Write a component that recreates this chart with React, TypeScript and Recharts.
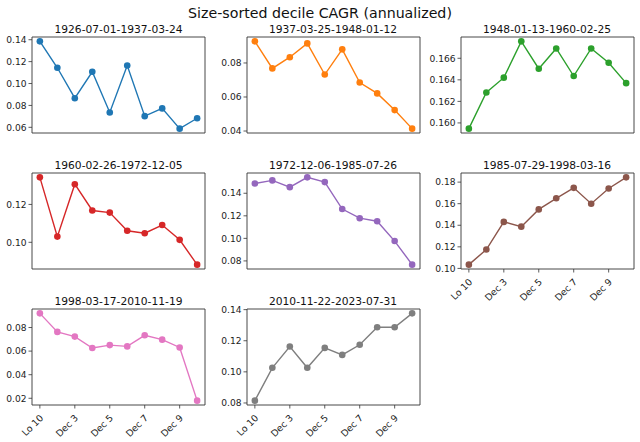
import React from "react";
import { LineChart, Line, XAxis, YAxis, ReferenceLine } from "recharts";

const categories = ["Lo 10", "Dec 2", "Dec 3", "Dec 4", "Dec 5", "Dec 6", "Dec 7", "Dec 8", "Dec 9", "Hi 10"];

const periods = [
  "1926-07-01-1937-03-24",
  "1937-03-25-1948-01-12",
  "1948-01-13-1960-02-25",
  "1960-02-26-1972-12-05",
  "1972-12-06-1985-07-26",
  "1985-07-29-1998-03-16",
  "1998-03-17-2010-11-19",
  "2010-11-22-2023-07-31",
];

const cagr1926 = [0.1385, 0.1144, 0.0866, 0.1107, 0.0736, 0.1165, 0.0702, 0.0773, 0.0588, 0.0683];
const cagr1937 = [0.0927, 0.0768, 0.0834, 0.0915, 0.0732, 0.0880, 0.0685, 0.0621, 0.0523, 0.0414];
const cagr1948 = [0.15947, 0.16282, 0.1642, 0.16757, 0.16503, 0.16691, 0.16435, 0.16691, 0.16559, 0.16369];
const cagr1960 = [0.1343, 0.1030, 0.1307, 0.1168, 0.1157, 0.1061, 0.1048, 0.1091, 0.1013, 0.0882];
const cagr1972 = [0.1487, 0.1514, 0.1454, 0.1541, 0.1499, 0.1260, 0.1179, 0.1152, 0.0976, 0.0767];
const cagr1985 = [0.1035, 0.1175, 0.1431, 0.1387, 0.1547, 0.1650, 0.1747, 0.1600, 0.1741, 0.1844];
const cagr1998 = [0.0920, 0.0763, 0.0723, 0.0626, 0.0651, 0.0640, 0.0734, 0.0697, 0.0631, 0.0180];
const cagr2010 = [0.0815, 0.1026, 0.1163, 0.1026, 0.1154, 0.1109, 0.1174, 0.1287, 0.1287, 0.1376];

const seriesValues = [cagr1926, cagr1937, cagr1948, cagr1960, cagr1972, cagr1985, cagr1998, cagr2010];

const yTicks = [
  [0.06, 0.08, 0.1, 0.12, 0.14],
  [0.04, 0.06, 0.08],
  [0.16, 0.162, 0.164, 0.166],
  [0.1, 0.12],
  [0.08, 0.1, 0.12, 0.14],
  [0.1, 0.12, 0.14, 0.16, 0.18],
  [0.02, 0.04, 0.06, 0.08],
  [0.08, 0.1, 0.12, 0.14],
];
const yDecimals = [2, 2, 3, 2, 2, 2, 2, 2];
const xTickIdx = [0, 2, 4, 6, 8];

const colors = ["#1f77b4", "#ff7f0e", "#2ca02c", "#d62728", "#9467bd", "#8c564b", "#e377c2", "#7f7f7f"];

const FONT = "DejaVu Sans, sans-serif";
const colLeft = [32, 246.5, 460.5];
const rowTop = [37, 173, 309];
const boxW = 173;
const boxH = 96;
const showLabels = [false, false, false, false, false, true, true, true];
const SPINE = "#333";

const RotTick = (props: any) => {
  const { x, y, payload } = props;
  const px = x + 4;
  const py = y + 8;
  return (
    <text
      x={px}
      y={py}
      textAnchor="end"
      fontSize={9.3}
      fontFamily={FONT}
      fill="#222"
      transform={`rotate(-45, ${px}, ${py})`}
    >
      {categories[payload.value]}
    </text>
  );
};

function Panel({ i }: { i: number }) {
  const vals = seriesValues[i];
  const data = vals.map((v, k) => ({ x: k, v }));
  const mn = Math.min(...vals);
  const mx = Math.max(...vals);
  const pad = (mx - mn) * 0.05;
  const yDom = [mn - pad, mx + pad];
  const xDom = [-0.45, 9.45];
  const col = i % 3;
  const row = Math.floor(i / 3);
  const left = colLeft[col];
  const top = rowTop[row];
  const W = boxW + 45;
  const H = boxH + 5 + 45;
  return (
    <>
      <div
        style={{
          position: "absolute",
          left: left,
          width: boxW,
          top: top - 14,
          textAlign: "center",
          fontFamily: FONT,
          fontSize: 10.7,
          color: "#111",
          lineHeight: "13px",
          whiteSpace: "nowrap",
        }}
      >
        {periods[i]}
      </div>
      <div style={{ position: "absolute", left: left - 40, top: top - 5, width: W, height: H }}>
        <LineChart width={W} height={H} data={data} margin={{ top: 5, right: 5, left: 0, bottom: 0 }}>
          <XAxis
            dataKey="x"
            type="number"
            domain={xDom}
            ticks={xTickIdx}
            allowDataOverflow
            axisLine={{ stroke: SPINE, strokeWidth: 0.9 }}
            tickLine={{ stroke: SPINE, strokeWidth: 0.8 }}
            tickSize={3.5}
            height={45}
            interval={0}
            tick={showLabels[i] ? <RotTick /> : false}
          />
          <YAxis
            type="number"
            domain={yDom}
            ticks={yTicks[i]}
            allowDataOverflow
            axisLine={{ stroke: SPINE, strokeWidth: 0.9 }}
            tickLine={{ stroke: SPINE, strokeWidth: 0.8 }}
            tickSize={3.5}
            tickMargin={2}
            width={40}
            interval={0}
            tick={{ fontSize: 9.1, fontFamily: FONT, fill: "#222" }}
            tickFormatter={(v: number) => v.toFixed(yDecimals[i])}
          />
          <ReferenceLine y={yDom[1]} stroke={SPINE} strokeWidth={0.9} ifOverflow="visible" />
          <ReferenceLine x={xDom[1]} stroke={SPINE} strokeWidth={0.9} ifOverflow="visible" />
          <Line
            dataKey="v"
            stroke={colors[i]}
            strokeWidth={1.4}
            dot={{ r: 3.3, fill: colors[i], stroke: colors[i], strokeWidth: 0 }}
            isAnimationActive={false}
          />
        </LineChart>
      </div>
    </>
  );
}

export default function App() {
  return (
    <div
      style={{
        position: "absolute",
        left: 0,
        top: 0,
        width: 640,
        height: 442,
        background: "#fff",
        overflow: "hidden",
      }}
    >
      <div
        style={{
          position: "absolute",
          left: 0,
          width: 640,
          top: 5,
          textAlign: "center",
          fontFamily: FONT,
          fontSize: 14.2,
          color: "#111",
          lineHeight: "17px",
        }}
      >
        Size-sorted decile CAGR (annualized)
      </div>
      {seriesValues.map((_, i) => (
        <Panel key={i} i={i} />
      ))}
    </div>
  );
}
